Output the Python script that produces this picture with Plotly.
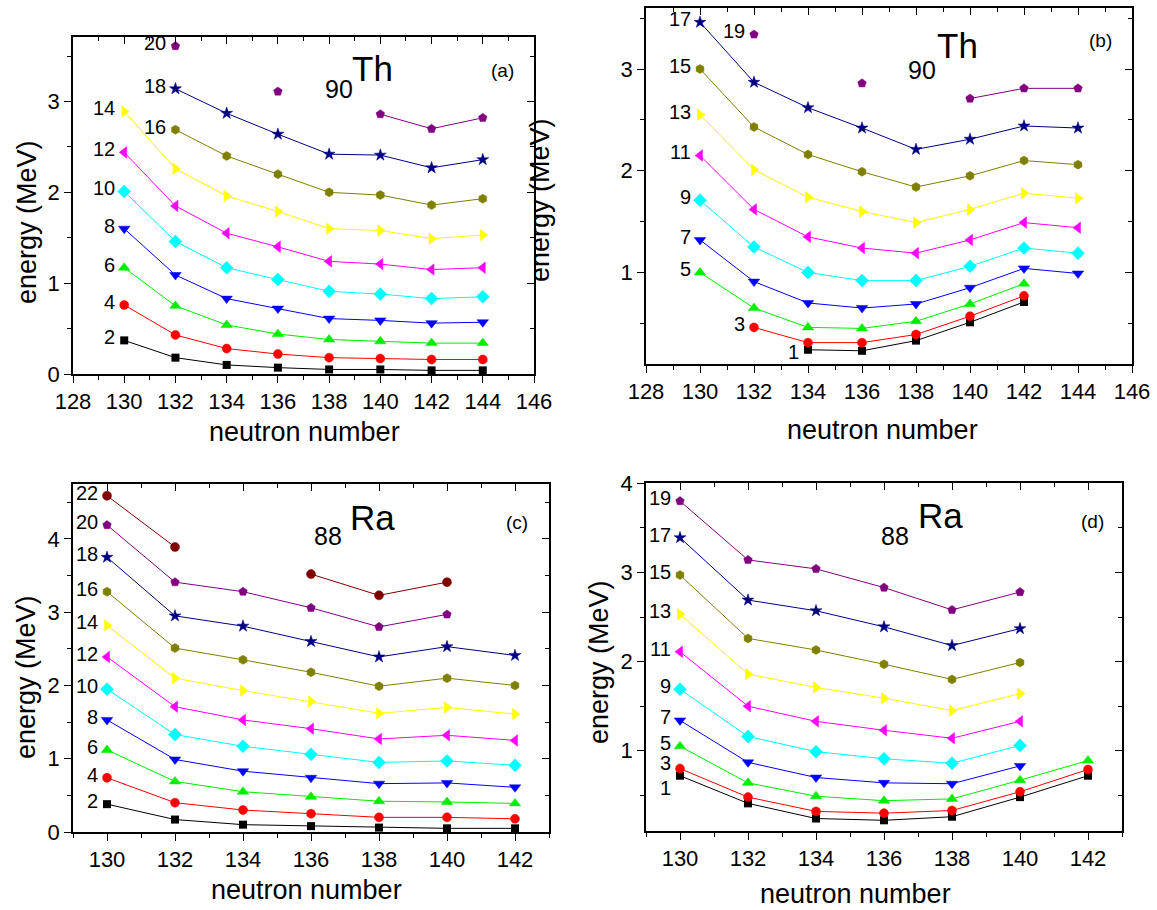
import plotly.graph_objects as go

W, H = 1157, 910
FONT = "Liberation Sans, Arial, sans-serif"

# neutron numbers
N_TH = [130, 132, 134, 136, 138, 140, 142, 144]
N_RA = [130, 132, 134, 136, 138, 140, 142]

# (a) 90Th, even-spin band energies (MeV)
th_a_2 = [0.37, 0.18, 0.10, 0.07, 0.05, 0.05, 0.04, 0.04]
th_a_4 = [0.76, 0.43, 0.28, 0.22, 0.18, 0.17, 0.16, 0.16]
th_a_6 = [1.17, 0.75, 0.54, 0.44, 0.38, 0.36, 0.34, 0.34]
th_a_8 = [1.60, 1.09, 0.83, 0.72, 0.61, 0.59, 0.56, 0.57]
th_a_10 = [2.01, 1.46, 1.17, 1.04, 0.91, 0.88, 0.83, 0.85]
th_a_12 = [2.44, 1.85, 1.55, 1.40, 1.24, 1.21, 1.15, 1.17]
th_a_14 = [2.89, 2.26, 1.96, 1.79, 1.60, 1.58, 1.49, 1.53]
th_a_16 = [None, 2.69, 2.40, 2.20, 2.00, 1.97, 1.86, 1.93]
th_a_18 = [None, 3.14, 2.87, 2.64, 2.42, 2.41, 2.27, 2.36]
th_a_20 = [None, 3.61, None, 3.11, None, 2.86, 2.70, 2.82]

# (b) 90Th, odd-spin band energies (MeV)
th_b_1 = [None, None, 0.24, 0.23, 0.33, 0.51, 0.71, None]
th_b_3 = [None, 0.46, 0.31, 0.31, 0.39, 0.57, 0.77, None]
th_b_5 = [1.00, 0.65, 0.46, 0.45, 0.52, 0.69, 0.89, None]
th_b_7 = [1.32, 0.91, 0.70, 0.65, 0.69, 0.85, 1.04, 0.99]
th_b_9 = [1.71, 1.25, 1.00, 0.92, 0.92, 1.06, 1.24, 1.19]
th_b_11 = [2.15, 1.62, 1.35, 1.24, 1.19, 1.32, 1.49, 1.44]
th_b_13 = [2.55, 2.01, 1.74, 1.60, 1.49, 1.62, 1.78, 1.73]
th_b_15 = [3.00, 2.43, 2.16, 1.99, 1.84, 1.95, 2.10, 2.06]
th_b_17 = [3.46, 2.87, 2.62, 2.42, 2.21, 2.31, 2.44, 2.42]
th_b_19 = [None, 3.34, None, 2.86, None, 2.71, 2.81, 2.81]

# (c) 88Ra, even-spin band energies (MeV)
ra_c_2 = [0.38, 0.17, 0.10, 0.08, 0.06, 0.05, 0.05]
ra_c_4 = [0.74, 0.40, 0.30, 0.25, 0.20, 0.20, 0.18]
ra_c_6 = [1.12, 0.69, 0.55, 0.48, 0.42, 0.41, 0.39]
ra_c_8 = [1.53, 0.99, 0.83, 0.74, 0.66, 0.67, 0.61]
ra_c_10 = [1.95, 1.33, 1.17, 1.06, 0.95, 0.97, 0.91]
ra_c_12 = [2.39, 1.71, 1.53, 1.41, 1.27, 1.32, 1.25]
ra_c_14 = [2.82, 2.10, 1.93, 1.78, 1.62, 1.70, 1.61]
ra_c_16 = [3.28, 2.51, 2.35, 2.18, 1.99, 2.10, 2.00]
ra_c_18 = [3.75, 2.95, 2.81, 2.60, 2.39, 2.53, 2.41]
ra_c_20 = [4.19, 3.41, 3.28, 3.06, 2.80, 2.97, None]
ra_c_22 = [4.59, 3.89, None, 3.52, 3.23, 3.41, None]

# (d) 88Ra, odd-spin band energies (MeV)
ra_d_1 = [0.72, 0.41, 0.24, 0.22, 0.26, 0.48, 0.72]
ra_d_3 = [0.80, 0.48, 0.32, 0.30, 0.33, 0.54, 0.79]
ra_d_5 = [1.05, 0.64, 0.49, 0.44, 0.46, 0.67, 0.89]
ra_d_7 = [1.34, 0.87, 0.70, 0.64, 0.63, 0.83, None]
ra_d_9 = [1.69, 1.16, 0.99, 0.91, 0.86, 1.06, None]
ra_d_11 = [2.11, 1.50, 1.33, 1.23, 1.14, 1.33, None]
ra_d_13 = [2.53, 1.86, 1.71, 1.59, 1.45, 1.64, None]
ra_d_15 = [2.97, 2.26, 2.13, 1.97, 1.80, 1.99, None]
ra_d_17 = [3.39, 2.69, 2.57, 2.39, 2.18, 2.37, None]
ra_d_19 = [3.80, 3.14, 3.04, 2.83, 2.58, 2.78, None]

# marker style per position in the band (lowest spin first)
STYLES = [
    ("#000000", "square", 8),
    ("#FF0000", "circle", 9),
    ("#00EE00", "triangle-up", 10),
    ("#0000FF", "triangle-down", 10),
    ("#00FFFF", "diamond", 10),
    ("#FF00FF", "triangle-left", 10),
    ("#FFFF00", "triangle-right", 10),
    ("#808000", "hexagon", 9),
    ("#000080", "star", 9),
    ("#800080", "pentagon", 9),
    ("#800000", "circle", 9),
]

panels = [
    dict(N=N_TH, levels=[(2, th_a_2), (4, th_a_4), (6, th_a_6), (8, th_a_8), (10, th_a_10),
                         (12, th_a_12), (14, th_a_14), (16, th_a_16), (18, th_a_18), (20, th_a_20)],
         box=(73, 534, 37, 374), xr=[128, 146], yr=[0, 3.71], xt=[128, 146],
         sym="90", el="Th", tag="(a)",
         sym_pos=(339, 89), el_pos=(372, 69), tag_pos=(503, 71)),
    dict(N=N_TH, levels=[(1, th_b_1), (3, th_b_3), (5, th_b_5), (7, th_b_7), (9, th_b_9),
                         (11, th_b_11), (13, th_b_13), (15, th_b_15), (17, th_b_17), (19, th_b_19)],
         box=(646, 1132, 8, 364), xr=[128, 146], yr=[0.1, 3.6], xt=[128, 146],
         sym="90", el="Th", tag="(b)",
         sym_pos=(922, 70), el_pos=(957, 45), tag_pos=(1100, 41)),
    dict(N=N_RA, levels=[(2, ra_c_2), (4, ra_c_4), (6, ra_c_6), (8, ra_c_8), (10, ra_c_10),
                         (12, ra_c_12), (14, ra_c_14), (16, ra_c_16), (18, ra_c_18), (20, ra_c_20),
                         (22, ra_c_22)],
         box=(73, 549, 484, 832), xr=[129, 143], yr=[0, 4.75], xt=[130, 142],
         sym="88", el="Ra", tag="(c)",
         sym_pos=(328, 536), el_pos=(372, 517), tag_pos=(517, 522)),
    dict(N=N_RA, levels=[(1, ra_d_1), (3, ra_d_3), (5, ra_d_5), (7, ra_d_7), (9, ra_d_9),
                         (11, ra_d_11), (13, ra_d_13), (15, ra_d_15), (17, ra_d_17), (19, ra_d_19)],
         box=(646, 1122, 483, 831), xr=[129, 143], yr=[0.1, 4.003], xt=[130, 142],
         sym="88", el="Ra", tag="(d)",
         sym_pos=(895, 536), el_pos=(940, 515), tag_pos=(1092, 521)),
]

# axis-title positions (pixel centres)
XTITLE_POS = [(304, 432), (882, 430), (306, 890), (855, 894)]
YTITLE_POS = [(27, 222), (540, 200), (26, 677), (599, 662)]

# per-label vertical nudges for crowded spots: (panel, spin) -> yshift
LABEL_YSHIFT = {(1, 1): -2, (3, 1): -12, (3, 3): 6}


def px(x):
    return x / W


def py(y):
    return 1 - y / H


fig = go.Figure()
layout = dict(
    width=W, height=H, autosize=False,
    margin=dict(l=0, r=0, t=0, b=0, pad=0, autoexpand=False),
    paper_bgcolor="white", plot_bgcolor="white", showlegend=False,
    font=dict(family=FONT, color="black"),
)
annotations = []

for i, p in enumerate(panels):
    k = i + 1
    xa = f"x{k}" if k > 1 else "x"
    ya = f"y{k}" if k > 1 else "y"
    xo, yo = f"x{k + 4}", f"y{k + 4}"
    l, r, t, b = p["box"]
    xdom = [px(l), px(r)]
    ydom = [py(b), py(t)]

    for j, (spin, vals) in enumerate(p["levels"]):
        color, symbol, size = STYLES[j]
        fig.add_trace(go.Scatter(
            x=p["N"], y=vals, xaxis=xa, yaxis=ya, mode="lines+markers",
            connectgaps=False,
            line=dict(color=color, width=1),
            marker=dict(color=color, symbol=symbol, size=size,
                        line=dict(width=0.5 if symbol != "square" else 0, color=color)),
            name=str(spin), hoverinfo="x+y+name",
        ))
        first = next(idx for idx, v in enumerate(vals) if v is not None)
        annotations.append(dict(
            x=p["N"][first], y=vals[first], xref=xa, yref=ya,
            text=str(spin), showarrow=False, xanchor="right", yanchor="middle",
            xshift=-7, yshift=LABEL_YSHIFT.get((i, spin), 3),
            font=dict(family=FONT, size=20, color="black"),
        ))

    # empty traces so the top / right frame axes get drawn
    fig.add_trace(go.Scatter(x=[], y=[], xaxis=xo, yaxis=ya, hoverinfo="skip"))
    fig.add_trace(go.Scatter(x=[], y=[], xaxis=xa, yaxis=yo, hoverinfo="skip"))

    axis_common = dict(showgrid=False, zeroline=False, showline=True,
                       linecolor="black", linewidth=1.5, automargin=False)
    layout[f"xaxis{k}"] = dict(
        domain=xdom, anchor=ya, range=p["xr"], tick0=p["xt"][0], dtick=2,
        ticks="outside", ticklen=7, tickwidth=1.2, tickcolor="black",
        minor=dict(dtick=1, ticks="outside", ticklen=4, tickwidth=1.2, tickcolor="black"),
        tickfont=dict(family=FONT, size=22, color="black"),
        **axis_common)
    layout[f"yaxis{k}"] = dict(
        domain=ydom, anchor=xa, range=p["yr"], tick0=0, dtick=1,
        ticks="outside", ticklen=7, tickwidth=1.2, tickcolor="black",
        minor=dict(dtick=0.5, tick0=0, ticks="outside", ticklen=4, tickwidth=1.2, tickcolor="black"),
        tickfont=dict(family=FONT, size=22, color="black"),
        **axis_common)
    # mirrored frame on top and right with inward ticks
    layout[f"xaxis{k + 4}"] = dict(
        overlaying=xa, anchor=ya, side="top", range=p["xr"], tick0=p["xt"][0], dtick=2,
        ticks="inside", ticklen=7, tickwidth=1.2, tickcolor="black", showticklabels=False,
        minor=dict(dtick=1, ticks="inside", ticklen=4, tickwidth=1.2, tickcolor="black"),
        **axis_common)
    layout[f"yaxis{k + 4}"] = dict(
        overlaying=ya, anchor=xa, side="right", range=p["yr"], tick0=0, dtick=1,
        ticks="inside", ticklen=7, tickwidth=1.2, tickcolor="black", showticklabels=False,
        minor=dict(dtick=0.5, tick0=0, ticks="inside", ticklen=4, tickwidth=1.2, tickcolor="black"),
        **axis_common)

    # nucleus symbol and panel tag
    sx, sy = p["sym_pos"]
    ex, ey = p["el_pos"]
    tx, ty = p["tag_pos"]
    annotations += [
        dict(x=px(sx), y=py(sy), xref="paper", yref="paper", text=p["sym"], showarrow=False,
             xanchor="center", yanchor="middle", font=dict(family=FONT, size=25, color="black")),
        dict(x=px(ex), y=py(ey), xref="paper", yref="paper", text=p["el"], showarrow=False,
             xanchor="center", yanchor="middle", font=dict(family=FONT, size=35, color="black")),
        dict(x=px(tx), y=py(ty), xref="paper", yref="paper", text=p["tag"], showarrow=False,
             xanchor="center", yanchor="middle", font=dict(family=FONT, size=19, color="black")),
    ]

    # axis titles
    (axx, axy), (ayx, ayy) = XTITLE_POS[i], YTITLE_POS[i]
    annotations += [
        dict(x=px(axx), y=py(axy), xref="paper", yref="paper", text="neutron number",
             showarrow=False, xanchor="center", yanchor="middle",
             font=dict(family=FONT, size=27, color="black")),
        dict(x=px(ayx), y=py(ayy), xref="paper", yref="paper", text="energy (MeV)",
             showarrow=False, xanchor="center", yanchor="middle", textangle=-90,
             font=dict(family=FONT, size=27, color="black")),
    ]

layout["annotations"] = annotations
fig.update_layout(**layout)
fig.write_html("out.html")
